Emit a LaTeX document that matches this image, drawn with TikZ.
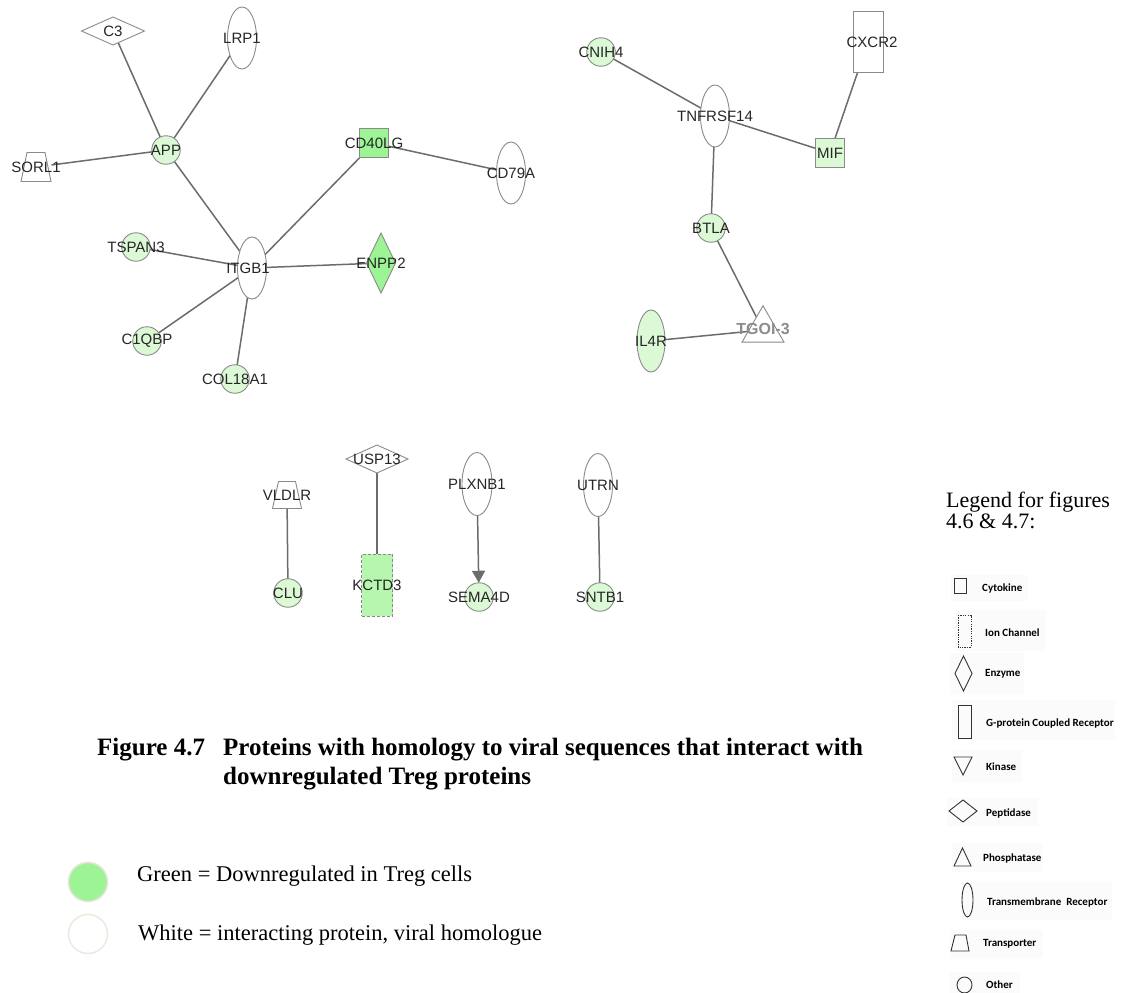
\documentclass[tikz,border=0pt]{standalone}
\usepackage{fontspec}
\setmainfont{Liberation Serif}
\newfontfamily\labelfont{Liberation Sans}
\newfontfamily\keyfont{Carlito}
\usetikzlibrary{shapes.geometric,arrows.meta,backgrounds}

\definecolor{dgreen}{HTML}{9CF495}
\definecolor{lgreen}{HTML}{DCF9D6}
\definecolor{mgreen}{HTML}{B6F6AF}
\definecolor{nodeline}{HTML}{8A8A8A}
\definecolor{edgegray}{HTML}{6C6C6C}
\definecolor{labeltext}{HTML}{262626}
\definecolor{tgoigray}{HTML}{8C8C8C}
\definecolor{keyline}{HTML}{333333}
\definecolor{keyback}{HTML}{FBFBFB}
\definecolor{ringgreen}{HTML}{E6E4D6}
\definecolor{ringwhite}{HTML}{ECEADF}

\tikzset{
  prot/.style={draw=nodeline, line width=0.9pt, inner sep=0pt, outer sep=0pt, fill=white},
  every label/.style={font=\labelfont\fontsize{15}{17}\selectfont, text=labeltext, inner sep=0pt},
  tmr/.style={prot, ellipse, minimum width=29pt, minimum height=62pt},
  oth/.style={prot, circle, minimum size=28.5pt},
  cyto/.style={prot, rectangle, minimum size=29pt},
  gpcr/.style={prot, rectangle, minimum width=30pt, minimum height=61pt},
  ionch/.style={prot, rectangle, minimum width=31pt, minimum height=62pt, dash pattern=on 3pt off 2pt},
  enz/.style={prot, diamond, minimum width=29pt, minimum height=60pt},
  pept/.style={prot, diamond, minimum width=63pt, minimum height=28pt},
  % transporter: a trapezoid drawn inside an invisible box
  transp/.style={rectangle, inner sep=0pt, outer sep=0pt, minimum width=31pt, minimum height=30pt,
    path picture={\filldraw[draw=nodeline, fill=white, line width=0.9pt]
      ([xshift=6.5pt,yshift=-0.5pt]path picture bounding box.north west)
      -- ([xshift=-6.5pt,yshift=-0.5pt]path picture bounding box.north east)
      -- ([xshift=-0.5pt,yshift=0.5pt]path picture bounding box.south east)
      -- ([xshift=0.5pt,yshift=0.5pt]path picture bounding box.south west) -- cycle;}},
  phos/.style={prot, regular polygon, regular polygon sides=3, minimum size=48.5pt},
  down/.style={fill=dgreen},
  weak/.style={fill=lgreen},
  mid/.style={fill=mgreen},
  link/.style={draw=edgegray, line width=1.5pt},
  keysym/.style={draw=keyline, line width=0.9pt},
  keybox/.style={fill=keyback},
  keytext/.style={anchor=west, inner sep=0pt, font=\keyfont\bfseries\fontsize{11}{13}\selectfont},
  captext/.style={anchor=base west, inner sep=0pt, font=\bfseries\fontsize{25}{28}\selectfont},
  bodytext/.style={anchor=base west, inner sep=0pt, font=\fontsize{22.5}{25}\selectfont},
  titletext/.style={anchor=base west, inner sep=0pt, font=\fontsize{22}{22}\selectfont},
}

\begin{document}
\begin{tikzpicture}[x=1pt, y=-1pt]
\useasboundingbox (0,0) rectangle (1133,993);

% ---- first network: APP / ITGB1 cluster
\node[pept, label=center:C3] (C3) at (113,31) {};
\node[tmr, label=center:LRP1] (LRP1) at (242,38) {};
\node[oth, weak, label=center:APP] (APP) at (166,150) {};
\node[transp, label=center:SORL1] (SORL1) at (36,167) {};
\node[cyto, down, label=center:CD40LG] (CD40LG) at (374,143) {};
\node[tmr, label=center:CD79A] (CD79A) at (511,173) {};
\node[enz, down, label=center:ENPP2] (ENPP2) at (381,263) {};
\node[tmr, label={[xshift=-4pt]center:ITGB1}] (ITGB1) at (252,268) {};
\node[oth, weak, label=center:TSPAN3] (TSPAN3) at (136,247) {};
\node[oth, weak, label=center:C1QBP] (C1QBP) at (147,341) {};
\node[oth, weak, label=center:COL18A1] (COL18A1) at (235,379) {};

% ---- second network: TNFRSF14 cluster
\node[oth, weak, label=center:CNIH4] (CNIH4) at (601,52) {};
\node[tmr, label=center:TNFRSF14] (TNFRSF14) at (715,116) {};
\node[gpcr, label={[xshift=4pt]center:CXCR2}] (CXCR2) at (868,42) {};
\node[cyto, weak, label=center:MIF] (MIF) at (830,153) {};
\node[oth, weak, label=center:BTLA] (BTLA) at (711,228) {};
\node[tmr, weak, minimum width=28pt, label=center:IL4R] (IL4R) at (651,341) {};
\node[phos, label={[font=\labelfont\bfseries\fontsize{16}{18}\selectfont, text=tgoigray, yshift=1pt]center:TGOI-3}] (TGOI3) at (763,330) {};

% ---- isolated pairs
\node[transp, minimum width=30pt, minimum height=28pt, label=center:VLDLR] (VLDLR) at (287,495) {};
\node[oth, weak, label=center:CLU] (CLU) at (288,593) {};
\node[pept, minimum width=62pt, label=center:USP13] (USP13) at (377,459) {};
\node[ionch, mid, label=center:KCTD3] (KCTD3) at (377,585) {};
\node[tmr, minimum width=30pt, minimum height=63pt, label=center:PLXNB1] (PLXNB1) at (477,484) {};
\node[oth, weak, label=center:SEMA4D] (SEMA4D) at (479,597) {};
\node[tmr, minimum height=63pt, label=center:UTRN] (UTRN) at (598,485) {};
\node[oth, weak, label=center:SNTB1] (SNTB1) at (600,597) {};

% ---- interactions
\begin{scope}[on background layer]
  \fill[white] (0,0) rectangle (1133,993);
  \draw[link] (C3) -- (APP);
  \draw[link] (LRP1) -- (APP);
  \draw[link] (SORL1) -- (APP);
  \draw[link] (APP) -- (ITGB1);
  \draw[link] (ITGB1) -- (CD40LG);
  \draw[link] (CD40LG) -- (CD79A);
  \draw[link] (ITGB1) -- (ENPP2);
  \draw[link] (ITGB1) -- (TSPAN3);
  \draw[link] (ITGB1) -- (C1QBP);
  \draw[link] (ITGB1) -- (COL18A1);
  \draw[link] (CNIH4) -- (TNFRSF14);
  \draw[link] (TNFRSF14) -- (MIF);
  \draw[link] (MIF) -- (CXCR2);
  \draw[link] (TNFRSF14) -- (BTLA);
  \draw[link] (BTLA) -- (TGOI3);
  \draw[link] (IL4R) -- (TGOI3);
  \draw[link] (VLDLR) -- (CLU);
  \draw[link] (USP13) -- (KCTD3);
  \draw[link, -{Triangle[width=13pt,length=12pt]}, edgegray] (PLXNB1) -- (SEMA4D);
  \draw[link] (UTRN) -- (SNTB1);
\end{scope}

% ---- caption
\node[captext] (capnum) at (97,755) {Figure 4.7};
\node[captext] (capline1) at (223,755) {Proteins with homology to viral sequences that interact with};
\node[captext] (capline2) at (223,784) {downregulated Treg proteins};

% ---- colour key
\node[circle, minimum size=39pt, inner sep=0pt, fill=dgreen, draw=ringgreen, line width=1.5pt] (keygreen) at (88,882) {};
\node[circle, minimum size=39pt, inner sep=0pt, fill=white, draw=ringwhite, line width=1.5pt] (keywhite) at (88,934) {};
\node[bodytext] (keygreentext) at (137,881) {Green = Downregulated in Treg cells};
\node[bodytext] (keywhitetext) at (138,940) {White = interacting protein, viral homologue};

% ---- shape key
\node[titletext] (keytitleA) at (946,507) {Legend for figures};
\node[titletext] (keytitleB) at (946,528) {4.6 \& 4.7:};

\fill[keybox] (951,575) rectangle (1028,601);
\fill[keybox] (956,610) rectangle (1046,651);
\fill[keybox] (950,653) rectangle (1024,694);
\fill[keybox] (952,700) rectangle (1115,740);
\fill[keybox] (952,750) rectangle (1022,782);
\fill[keybox] (947,798) rectangle (1038,826);
\fill[keybox] (952,843) rectangle (1043,872);
\fill[keybox] (962,882) rectangle (1112,920);
\fill[keybox] (950,930) rectangle (1043,958);
\fill[keybox] (950,972) rectangle (1020,993);

\draw[keysym] (954,578) rectangle (966,593);
\draw[keysym, dash pattern=on 1.3pt off 1.1pt] (958,615) rectangle (971,647);
\draw[keysym] (955,673.5) -- (963.5,656) -- (972,673.5) -- (963.5,691) -- cycle;
\draw[keysym] (958,705) rectangle (971,738);
\draw[keysym] (954,757) -- (972,757) -- (963,775) -- cycle;
\draw[keysym] (949,811) -- (963,800) -- (977,811) -- (963,822) -- cycle;
\draw[keysym] (954,866) -- (971,866) -- (962.5,848) -- cycle;
\draw[keysym] (967.5,900) ellipse [x radius=5.5, y radius=17];
\draw[keysym] (955,935) -- (966,935) -- (969,951) -- (951,951) -- cycle;
\draw[keysym] (964.5,985) ellipse [x radius=7.5, y radius=8];

\node[keytext] (kcyto) at (982,588) {Cytokine};
\node[keytext] (kion) at (985,633) {Ion Channel};
\node[keytext] (kenz) at (985,674) {Enzyme};
\node[keytext] (kgpcr) at (986,723) {G-protein Coupled Receptor};
\node[keytext] (kkin) at (986,767) {Kinase};
\node[keytext] (kpep) at (986,813) {Peptidase};
\node[keytext] (kphos) at (983,858) {Phosphatase};
\node[keytext] (ktmr) at (987,902) {Transmembrane\ \ Receptor};
\node[keytext] (ktra) at (983,944) {Transporter};
\node[keytext] (koth) at (986,985) {Other};
\end{tikzpicture}
\end{document}
